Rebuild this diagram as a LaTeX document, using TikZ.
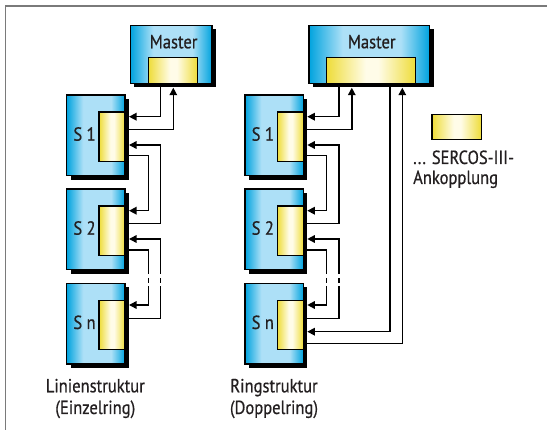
\documentclass[tikz,border=0pt]{standalone}
\usepackage{fontspec}
\setmainfont{PT Sans}[FakeStretch=0.87,FakeBold=0.6]
\usetikzlibrary{shadows,arrows.meta,calc}
\definecolor{bdark}{HTML}{00A3DE}
\definecolor{blight}{HTML}{ADE0F7}
\definecolor{yedge}{HTML}{EEDC38}
\definecolor{ypale}{HTML}{FFFCE8}
\definecolor{framegray}{HTML}{7A7A7A}
\definecolor{txt}{HTML}{231F20}
\pgfdeclarehorizontalshading{blueshade}{100bp}{color(0bp)=(bdark); color(25bp)=(bdark); color(39bp)=(blight); color(63bp)=(blight); color(75bp)=(bdark); color(100bp)=(bdark)}
\pgfdeclarehorizontalshading{yellowshade}{100bp}{color(0bp)=(yedge); color(25bp)=(yedge); color(47bp)=(ypale); color(54bp)=(ypale); color(75bp)=(yedge); color(100bp)=(yedge)}
\tikzset{
  unit/.style={draw=black, line width=1.5pt, shading=blueshade, inner sep=0pt, outer sep=0pt, anchor=north west,
    drop shadow={shadow xshift=4pt, shadow yshift=-4pt, opacity=1, fill=black}},
  coup/.style={draw=black, line width=1.4pt, shading=yellowshade, inner sep=0pt, outer sep=0pt, anchor=north west},
  wire/.style={line width=1.5pt, draw=black},
  arr/.style={wire, -{Triangle[length=7.5pt,width=7.5pt]}},
  lbl/.style={font=\fontsize{19}{21}\selectfont, text=txt, inner sep=0pt},
  framestyle/.style={draw=framegray, line width=1.5pt},
}
\begin{document}
\begin{tikzpicture}[x=1pt,y=-1pt]
\useasboundingbox (0,0) rectangle (547,430);
\draw[framestyle] (5.6,430) |- (547,5.8);

% masters
\node[unit, minimum width=81.7pt, minimum height=58pt] (mL) at (130.3,25.3) {};
\node[coup, minimum width=49.4pt, minimum height=26pt] (cmL) at (148.3,57.3) {};
\node[lbl, anchor=base] (tmL) at (173.6,48.3) {Master};
\node[unit, minimum width=120.7pt, minimum height=58pt] (mR) at (308.8,25.3) {};
\node[coup, minimum width=89.4pt, minimum height=26pt] (cmR) at (326.3,57.3) {};
\node[lbl, anchor=base] (tmR) at (371.7,48.3) {Master};

\foreach \side/\dx in {L/0, R/178.3}{
  \node[unit, minimum width=58.3pt, minimum height=80.7pt] (s1\side) at (66.7+\dx,95) {};
  \node[coup, minimum width=26pt, minimum height=49.3pt] (c1\side) at (99+\dx,112) {};
  \node[lbl, anchor=base] (t1\side) at (84.5+\dx,140.7) {S 1};
  \node[unit, minimum width=58.3pt, minimum height=80.7pt] (s2\side) at (66.7+\dx,189) {};
  \node[coup, minimum width=26pt, minimum height=49.3pt] (c2\side) at (99+\dx,206) {};
  \node[lbl, anchor=base] (t2\side) at (84.5+\dx,234.7) {S 2};
  \node[unit, minimum width=58.3pt, minimum height=80.7pt] (sn\side) at (66.7+\dx,283.3) {};
  \node[coup, minimum width=26pt, minimum height=49.3pt] (cn\side) at (99+\dx,300.3) {};
  \node[lbl, anchor=base] (tn\side) at (84.5+\dx,329) {S n};

  % master <-> S1
  \draw[arr] ($(m\side.south west)+(30.4,0)$) |- ($(s1\side.north east)+(4,21.7)$);
  \draw[arr] ($(s1\side.north east)+(4,34.3)$) -| ($(m\side.south west)+(43,4.4)$);
  % S1 <-> S2
  \draw[arr] ($(s2\side.north east)+(4,34.3)$) -| ($(s1\side.north east)+(35.7,50)$) -- ($(s1\side.north east)+(4,50)$);
  \draw[arr] ($(s1\side.north east)+(4,60.7)$) -| ($(s2\side.north east)+(23.3,21.7)$) -- ($(s2\side.north east)+(4,21.7)$);
  % S2 <-> Sn with break
  \coordinate (a1\side) at ($(sn\side.north east)+(23.3,-9.3)$);
  \coordinate (a2\side) at ($(sn\side.north east)+(23.3,-5.3)$);
  \coordinate (a3\side) at ($(sn\side.north east)+(23.3,-0.3)$);
  \coordinate (a4\side) at ($(sn\side.north east)+(23.3,2.7)$);
  \coordinate (b1\side) at ($(sn\side.north east)+(35.7,-9.3)$);
  \coordinate (b2\side) at ($(sn\side.north east)+(35.7,-5.3)$);
  \coordinate (b3\side) at ($(sn\side.north east)+(35.7,-0.3)$);
  \coordinate (b4\side) at ($(sn\side.north east)+(35.7,2.7)$);
  \draw[wire] ($(s2\side.north east)+(4,61)$) -| (a1\side);
  \draw[wire] (a2\side) -- (a3\side);
  \draw[arr] (a4\side) |- ($(sn\side.north east)+(4,21.7)$);
  \draw[wire] ($(sn\side.north east)+(4,35)$) -| (b4\side);
  \draw[wire] (b3\side) -- (b2\side);
  \draw[arr] (b1\side) |- ($(s2\side.north east)+(4,50)$);
}

% ring closure
\draw[arr] ($(mR.south west)+(81.2,0)$) |- ($(snR.north east)+(4,48.4)$);
\draw[arr] ($(snR.north east)+(4,60)$) -| ($(mR.south west)+(93.5,4.4)$);

% legend
\node[coup, minimum width=49.3pt, minimum height=25pt] (leg) at (432,114.3) {};
\node[lbl, anchor=base west] (leg1) at (413,164) {... SERCOS-III-};
\node[lbl, anchor=base west] (leg2) at (413,184) {Ankopplung};

% captions
\node[lbl, anchor=base] (capL1) at (95.3,392.3) {Linienstruktur};
\node[lbl, anchor=base] (capL2) at (95.3,414) {(Einzelring)};
\node[lbl, anchor=base] (capR1) at (274,392.3) {Ringstruktur};
\node[lbl, anchor=base] (capR2) at (274,414) {(Doppelring)};
\end{tikzpicture}
\end{document}
